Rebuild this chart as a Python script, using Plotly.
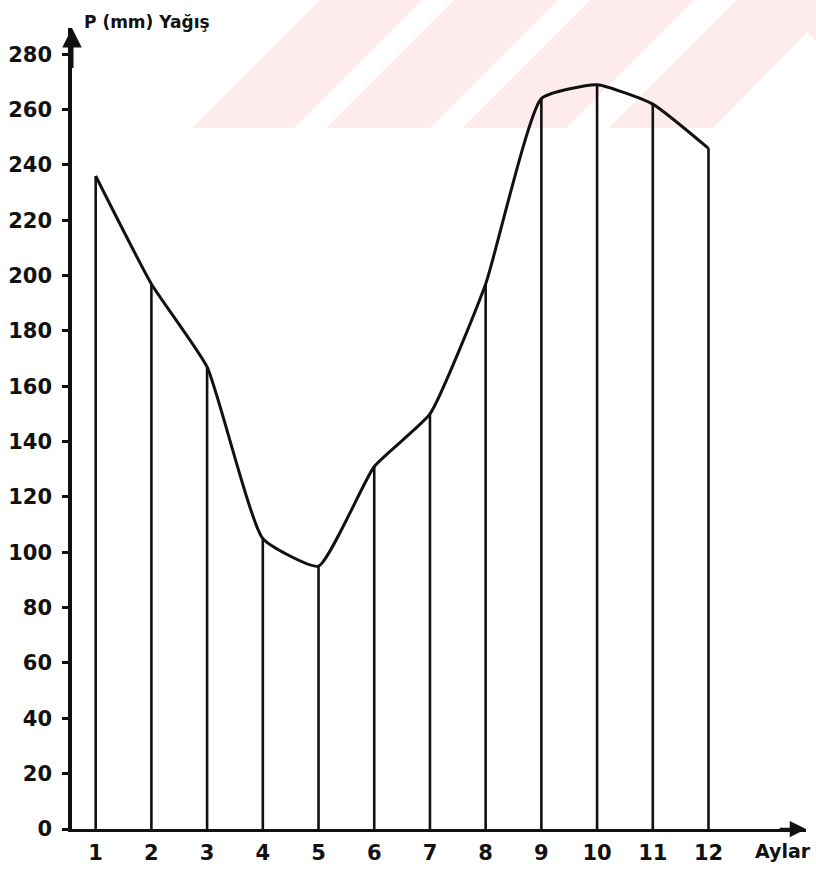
import plotly.graph_objects as go

# ---- data ----
months = [1, 2, 3, 4, 5, 6, 7, 8, 9, 10, 11, 12]
precip_mm = [236, 197, 167, 105, 95, 131, 150, 197, 264, 269, 262, 246]
y_ticks = [0, 20, 40, 60, 80, 100, 120, 140, 160, 180, 200, 220, 240, 260, 280]
x_labels = ["1", "2", "3", "4", "5", "6", "7", "8", "9", "10", "11", "12"]

W, H = 816, 870
L, R, T, B = 72, 10, 28, 41
XR = [0.575, 13.75]
YR = [0, 289.5]

FONT = dict(family="DejaVu Sans", size=21, color="#111111", weight="bold")

fig = go.Figure()

# stems from each value down to zero
sx, sy = [], []
for m, v in zip(months, precip_mm):
    sx += [m, m, None]
    sy += [0, v, None]
fig.add_trace(go.Scatter(x=sx, y=sy, mode="lines",
                         line=dict(color="#111111", width=2.6),
                         hoverinfo="skip", showlegend=False))

# precipitation curve
fig.add_trace(go.Scatter(x=months, y=precip_mm, mode="lines",
                         line=dict(color="#111111", width=3, shape="spline", smoothing=0.45),
                         showlegend=False))

# ---- pale watermark stripes (decoration, in pixel space -> paper) ----
pw = W - L - R
ph = H - T - B


def px2paper(pts):
    return [((x - L) / pw, (H - B - y) / ph) for x, y in pts]


stripes = [
    [(192, 128), (320, 0), (422, 0), (294, 128)],
    [(326, 128), (454, 0), (558, 0), (430, 128)],
    [(462, 128), (590, 0), (694, 0), (566, 128)],
    [(609, 128), (737, 0), (816, 0), (816, 41), (807, 32), (713, 128)],
]
shapes = []
for s in stripes:
    pts = px2paper(s)
    path = "M " + " L ".join(f"{a:.4f},{b:.4f}" for a, b in pts) + " Z"
    shapes.append(dict(type="path", xref="paper", yref="paper", path=path,
                       fillcolor="#fdebee", line=dict(width=0), layer="below"))

annotations = [
    # y axis arrowhead
    dict(x=XR[0], y=YR[1], ax=XR[0], ay=YR[1] - 15, xref="x", yref="y",
         axref="x", ayref="y", showarrow=True, arrowhead=2, arrowsize=1.3,
         arrowwidth=3, arrowcolor="#111111", text=""),
    # x axis arrowhead
    dict(x=XR[1], y=0, ax=XR[1] - 0.5, ay=0, xref="x", yref="y",
         axref="x", ayref="y", showarrow=True, arrowhead=2, arrowsize=1.3,
         arrowwidth=2.5, arrowcolor="#111111", text=""),
    dict(x=(82 - L) / pw, y=(H - B - 22) / ph, xref="paper", yref="paper",
         xanchor="left", yanchor="middle", showarrow=False,
         text="P (mm) Yağış", font=dict(family="DejaVu Sans", size=17,
                                          color="#111111", weight="bold")),
    dict(x=(813 - L) / pw, y=(H - B - 851) / ph, xref="paper", yref="paper",
         xanchor="right", yanchor="middle", showarrow=False,
         text="Aylar", font=dict(family="DejaVu Sans", size=19,
                                   color="#111111", weight="bold")),
]

fig.update_layout(
    width=W, height=H,
    margin=dict(l=L, r=R, t=T, b=B),
    paper_bgcolor="white", plot_bgcolor="rgba(0,0,0,0)",
    shapes=shapes, annotations=annotations,
    showlegend=False,
    xaxis=dict(range=XR, tickvals=months, ticktext=x_labels, showgrid=False,
               zeroline=False, showline=True, linecolor="#111111", linewidth=2.5,
               ticks="", tickfont=FONT, ticklabelstandoff=3, automargin=False),
    yaxis=dict(range=YR, tickvals=y_ticks, showgrid=False, zeroline=False,
               showline=True, linecolor="#111111", linewidth=3.5,
               ticks="outside", ticklen=6, tickwidth=2.5, tickcolor="#111111",
               tickfont=FONT, ticklabelstandoff=6, automargin=False),
)

fig.write_html("out.html",
               config={"displayModeBar": False},
               post_script="document.body.style.margin='0';document.body.style.overflow='hidden';")
